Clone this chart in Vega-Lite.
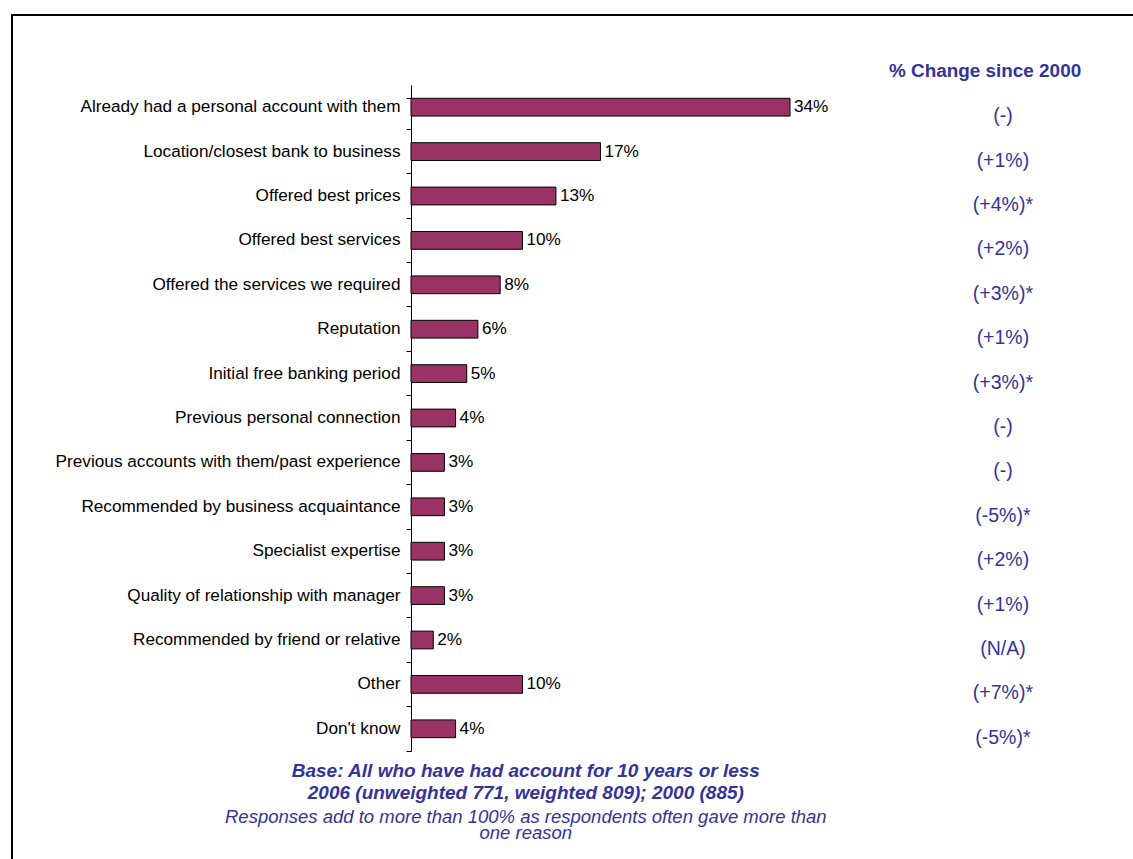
{
  "$schema": "https://vega.github.io/schema/vega-lite/v6.json",
  "autosize": {"type": "none"},
  "width": 1133,
  "height": 856,
  "padding": {"left": 12, "top": 15, "right": -12, "bottom": -12},
  "background": "white",
  "config": {"view": {"stroke": "black", "strokeWidth": 2}, "font": "Liberation Sans"},
  "data": {"values": [
    {"reason": "Already had a personal account with them", "pct": 34, "label": "34%", "change": "(-)"},
    {"reason": "Location/closest bank to business", "pct": 17, "label": "17%", "change": "(+1%)"},
    {"reason": "Offered best prices", "pct": 13, "label": "13%", "change": "(+4%)*"},
    {"reason": "Offered best services", "pct": 10, "label": "10%", "change": "(+2%)"},
    {"reason": "Offered the services we required", "pct": 8, "label": "8%", "change": "(+3%)*"},
    {"reason": "Reputation", "pct": 6, "label": "6%", "change": "(+1%)"},
    {"reason": "Initial free banking period", "pct": 5, "label": "5%", "change": "(+3%)*"},
    {"reason": "Previous personal connection", "pct": 4, "label": "4%", "change": "(-)"},
    {"reason": "Previous accounts with them/past experience", "pct": 3, "label": "3%", "change": "(-)"},
    {"reason": "Recommended by business acquaintance", "pct": 3, "label": "3%", "change": "(-5%)*"},
    {"reason": "Specialist expertise", "pct": 3, "label": "3%", "change": "(+2%)"},
    {"reason": "Quality of relationship with manager", "pct": 3, "label": "3%", "change": "(+1%)"},
    {"reason": "Recommended by friend or relative", "pct": 2, "label": "2%", "change": "(N/A)"},
    {"reason": "Other", "pct": 10, "label": "10%", "change": "(+7%)*"},
    {"reason": "Don't know", "pct": 4, "label": "4%", "change": "(-5%)*"}
  ]},
  "encoding": {
    "y": {
      "field": "reason", "type": "nominal", "sort": null,
      "scale": {"range": [70, 736], "paddingInner": 0.6, "paddingOuter": 0.3},
      "axis": {
        "title": null, "offset": -399, "domainColor": "black", "domainWidth": 1,
        "tickColor": "black", "tickSize": 5, "bandPosition": 1.75, "tickExtra": true,
        "labelFont": "Liberation Sans", "labelFontSize": 17.2, "labelColor": "black",
        "labelPadding": 6, "labelLimit": 400
      }
    }
  },
  "layer": [
    {
      "mark": {"type": "bar", "fill": "#993366", "stroke": "black", "strokeWidth": 1},
      "encoding": {
        "x": {"field": "pct", "type": "quantitative", "scale": {"domain": [0, 34], "range": [399, 778], "nice": false, "zero": true}, "axis": null}
      }
    },
    {
      "mark": {"type": "text", "align": "left", "baseline": "middle", "dx": 4, "fontSize": 17.2, "color": "black"},
      "encoding": {
        "x": {"field": "pct", "type": "quantitative"},
        "text": {"field": "label"}
      }
    },
    {
      "mark": {"type": "text", "align": "center", "baseline": "middle", "dy": 9, "fontSize": 19.5, "color": "#333399"},
      "encoding": {
        "x": {"datum": 53.1, "type": "quantitative"},
        "text": {"field": "change"}
      }
    },
    {
      "data": {"values": [{"t": "% Change since 2000"}]},
      "mark": {"type": "text", "align": "center", "baseline": "middle", "dy": -36, "fontSize": 18.9, "fontWeight": "bold", "color": "#333399"},
      "encoding": {
        "y": {"datum": "Already had a personal account with them", "type": "nominal"},
        "x": {"datum": 51.5, "type": "quantitative"},
        "text": {"field": "t"}
      }
    },
    {
      "data": {"values": [{"t": ["Base: All who have had account for 10 years or less", "2006 (unweighted 771, weighted 809); 2000 (885)"]}]},
      "mark": {"type": "text", "align": "center", "baseline": "alphabetic", "dy": 48, "lineHeight": 22, "fontSize": 19, "fontWeight": "bold", "fontStyle": "italic", "color": "#333399"},
      "encoding": {
        "y": {"datum": "Don't know", "type": "nominal"},
        "x": {"datum": 10.3, "type": "quantitative"},
        "text": {"field": "t"}
      }
    },
    {
      "data": {"values": [{"t": ["Responses add to more than 100% as respondents often gave more than", "one reason"]}]},
      "mark": {"type": "text", "align": "center", "baseline": "alphabetic", "dy": 94, "lineHeight": 16, "fontSize": 18.5, "fontStyle": "italic", "color": "#333399"},
      "encoding": {
        "y": {"datum": "Don't know", "type": "nominal"},
        "x": {"datum": 10.3, "type": "quantitative"},
        "text": {"field": "t"}
      }
    }
  ]
}
